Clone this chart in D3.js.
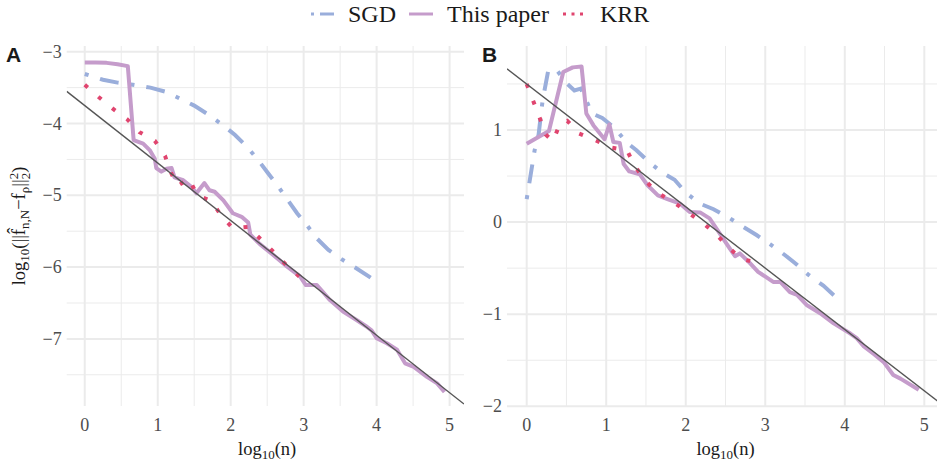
<!DOCTYPE html>
<html>
<head>
<meta charset="utf-8">
<script src="https://cdn.jsdelivr.net/npm/d3@7"></script>
<style>
    body { margin: 0; background: #fff; }
    svg text { font-family: "Liberation Serif", "DejaVu Serif", "Times New Roman", Times, serif; }
    svg text.tag { font-family: "Liberation Sans", Arial, sans-serif; }
</style>
</head>
<body>
<div id="chart"></div>
<script>

// ticks (log10 scale)
const xTicks = [0, 1, 2, 3, 4, 5];
const xMinor = [0.5, 1.5, 2.5, 3.5, 4.5];
const yTicksA = [-7, -6, -5, -4, -3];
const yMinorA = [-7.5, -6.5, -5.5, -4.5, -3.5];
const yTicksB = [-2, -1, 0, 1];
const yMinorB = [-1.5, -0.5, 0.5, 1.5];

const seriesNames = ["SGD", "This paper", "KRR"];

// panel A, [log10(n), log10(error)]
const sgdA = [[0,-3.31],[0.25,-3.39],[0.45,-3.43],[0.66,-3.46],[0.9,-3.5],[1.12,-3.56],[1.32,-3.66],
    [1.5,-3.75],[1.67,-3.86],[1.89,-4.02],[2.06,-4.16],[2.22,-4.32],[2.37,-4.5],[2.51,-4.69],
    [2.64,-4.86],[2.77,-5.05],[2.91,-5.25],[3.04,-5.41],[3.18,-5.6],[3.34,-5.76],[3.52,-5.89],
    [3.71,-6.01],[3.97,-6.18]];
const paperA = [[0,-3.15],[0.15,-3.15],[0.3,-3.155],[0.45,-3.175],[0.59,-3.2],[0.67,-4.23],
    [0.8,-4.28],[0.89,-4.37],[0.96,-4.49],[0.98,-4.62],[1.05,-4.67],[1.12,-4.63],[1.19,-4.62],
    [1.23,-4.75],[1.35,-4.79],[1.46,-4.88],[1.53,-4.97],[1.64,-4.83],[1.71,-4.93],[1.78,-4.95],
    [1.9,-5.07],[2.03,-5.25],[2.15,-5.3],[2.24,-5.38],[2.27,-5.55],[2.4,-5.68],[2.57,-5.82],
    [2.77,-5.99],[2.95,-6.13],[3.03,-6.25],[3.18,-6.25],[3.25,-6.33],[3.36,-6.46],[3.54,-6.62],
    [3.73,-6.74],[3.85,-6.82],[3.93,-6.88],[4.0,-6.99],[4.14,-7.06],[4.28,-7.15],[4.39,-7.34],
    [4.51,-7.39],[4.69,-7.53],[4.83,-7.62],[4.93,-7.74]];
const krrA = [[0,-3.46],[0.19,-3.63],[0.38,-3.79],[0.58,-3.94],[0.75,-4.12],[0.96,-4.24],
    [1.1,-4.45],[1.18,-4.68],[1.27,-4.87],[1.43,-4.77],[1.54,-5.0],[1.74,-5.08],[1.86,-5.27],
    [2.03,-5.46],[2.24,-5.44],[2.42,-5.62],[2.59,-5.79],[2.76,-5.97],[2.94,-6.13]];

// panel B
const sgdB = [[0,0.25],[0.04,0.46],[0.1,0.78],[0.15,0.95],[0.2,1.32],[0.27,1.64],[0.37,1.66],
    [0.5,1.51],[0.6,1.43],[0.68,1.45],[0.76,1.3],[0.82,1.18],[0.95,1.13],[1.11,1.02],
    [1.25,0.87],[1.38,0.78],[1.54,0.65],[1.7,0.54],[1.86,0.46],[2.0,0.32],[2.18,0.2],
    [2.35,0.14],[2.54,0.05],[2.72,-0.05],[2.89,-0.14],[3.06,-0.24],[3.25,-0.36],[3.38,-0.45],
    [3.54,-0.57],[3.73,-0.69],[3.87,-0.8]];
const paperB = [[0,0.85],[0.28,0.99],[0.46,1.63],[0.58,1.68],[0.69,1.69],[0.75,1.18],
    [0.84,1.05],[0.98,0.9],[1.04,1.06],[1.09,0.87],[1.17,0.86],[1.22,0.63],[1.29,0.55],
    [1.42,0.52],[1.52,0.4],[1.65,0.29],[1.77,0.25],[1.93,0.2],[2.05,0.11],[2.18,0.105],
    [2.3,0.04],[2.41,-0.1],[2.54,-0.27],[2.62,-0.37],[2.68,-0.34],[2.79,-0.43],[2.91,-0.54],
    [3.1,-0.65],[3.19,-0.65],[3.31,-0.76],[3.4,-0.79],[3.52,-0.9],[3.69,-0.99],[3.86,-1.1],
    [4.07,-1.21],[4.15,-1.26],[4.24,-1.35],[4.36,-1.43],[4.49,-1.52],[4.61,-1.66],[4.7,-1.7],
    [4.93,-1.82]];
const krrB = [[0,1.5],[0.08,1.32],[0.16,1.14],[0.24,0.95],[0.33,0.88],[0.42,1.07],[0.51,1.1],
    [0.66,0.96],[0.86,0.89],[1.06,0.81],[1.26,0.78],[1.36,0.61],[1.48,0.46],[1.64,0.32],
    [1.84,0.22],[2.02,0.11],[2.2,0.0],[2.37,-0.12],[2.53,-0.27],[2.7,-0.4],[2.89,-0.44]];

// reference lines y = a + b x
const refIntercepts = [-3.75, 1.5];
const refSlopes = [-0.8, -2 / 3];

const colors = {sgd: "#9aaedb", paper: "#c59ccb", krr: "#e0456f", ref: "#555555"};

const width = 937, height = 466;
const serif = "'Liberation Serif', 'DejaVu Serif', 'Times New Roman', serif";

const svg = d3.select("#chart").append("svg")
    .attr("width", width)
    .attr("height", height)
    .attr("font-family", serif);

const panels = [
    {id: "A", left: 66.7, right: 464, xDom: [-0.2475, 5.1975], yDom: [-7.935, -2.92],
        yTicks: yTicksA, yMinor: yMinorA, sgd: sgdA, paper: paperA, krr: krrA,
        ref: [refIntercepts[0], refSlopes[0]], labelX: 6},
    {id: "B", left: 507, right: 940, xDom: [-0.2475, 5.1975], yDom: [-1.997, 1.912],
        yTicks: yTicksB, yMinor: yMinorB, sgd: sgdB, paper: paperB, krr: krrB,
        ref: [refIntercepts[1], refSlopes[1]], labelX: 482}
];
const plotTop = 46, plotBottom = 406;

const fmt = d => (d < 0 ? "\u2212" + Math.abs(d) : "" + d);

panels.forEach(p => {
    let x = d3.scaleLinear().domain(p.xDom).range([p.left, p.right]);
    let y = d3.scaleLinear().domain(p.yDom).range([plotBottom, plotTop]);
    let gridRight = Math.min(p.right, width);

    let g = svg.append("g").attr("class", "panel-" + p.id);

    // clip
    svg.append("clipPath").attr("id", "clip" + p.id)
        .append("rect")
        .attr("x", p.left).attr("y", plotTop)
        .attr("width", p.right - p.left).attr("height", plotBottom - plotTop);

    // minor grid
    g.selectAll(".xminor").data(xMinor).enter().append("line")
        .attr("x1", d => x(d)).attr("x2", d => x(d))
        .attr("y1", plotTop).attr("y2", plotBottom)
        .attr("stroke", "#ebebeb").attr("stroke-width", 1);
    g.selectAll(".yminor").data(p.yMinor).enter().append("line")
        .attr("x1", p.left).attr("x2", gridRight)
        .attr("y1", d => y(d)).attr("y2", d => y(d))
        .attr("stroke", "#ebebeb").attr("stroke-width", 1);

    // major grid
    g.selectAll(".xmajor").data(xTicks).enter().append("line")
        .attr("x1", d => x(d)).attr("x2", d => x(d))
        .attr("y1", plotTop).attr("y2", plotBottom)
        .attr("stroke", "#ebebeb").attr("stroke-width", 2);
    g.selectAll(".ymajor").data(p.yTicks).enter().append("line")
        .attr("x1", p.left).attr("x2", gridRight)
        .attr("y1", d => y(d)).attr("y2", d => y(d))
        .attr("stroke", "#ebebeb").attr("stroke-width", 2);

    // tick labels
    g.selectAll(".xlab").data(xTicks).enter().append("text")
        .attr("x", d => x(d)).attr("y", 431)
        .attr("text-anchor", "middle")
        .attr("font-size", 18).attr("fill", "#4d4d4d")
        .text(fmt);
    g.selectAll(".ylab").data(p.yTicks).enter().append("text")
        .attr("x", p.left - 5).attr("y", d => y(d) + 6)
        .attr("text-anchor", "end")
        .attr("font-size", 18).attr("fill", "#4d4d4d")
        .text(fmt);

    // x title
    let xt = g.append("text")
        .attr("x", (x(0) + x(5)) / 2 + 0).attr("y", 455)
        .attr("text-anchor", "middle")
        .attr("font-size", 18.5).attr("fill", "#1a1a1a");
    xt.append("tspan").text("log");
    xt.append("tspan").attr("dy", 4).attr("font-size", 13).text("10");
    xt.append("tspan").attr("dy", -4).text("(n)");

    // data lines
    let line = d3.line().x(d => x(d[0])).y(d => y(d[1]));
    let lines = g.append("g").attr("clip-path", `url(#clip${p.id})`);

    lines.append("path").datum(p.sgd)
        .attr("d", line).attr("fill", "none")
        .attr("stroke", colors.sgd).attr("stroke-width", 4)
        .attr("stroke-dasharray", "4,12,19,12");
    lines.append("path").datum(p.paper)
        .attr("d", line).attr("fill", "none")
        .attr("stroke", colors.paper).attr("stroke-width", 4)
        .attr("stroke-linejoin", "round");
    lines.append("path").datum(p.krr)
        .attr("d", line).attr("fill", "none")
        .attr("stroke", colors.krr).attr("stroke-width", 4)
        .attr("stroke-dasharray", "4,14");

    // reference line
    lines.append("line")
        .attr("x1", x(p.xDom[0])).attr("y1", y(p.ref[0] + p.ref[1] * p.xDom[0]))
        .attr("x2", x(p.xDom[1])).attr("y2", y(p.ref[0] + p.ref[1] * p.xDom[1]))
        .attr("stroke", colors.ref).attr("stroke-width", 1.4);

    // panel tag
    svg.append("text")
        .attr("class", "tag")
        .attr("x", p.labelX).attr("y", 62)
        .attr("font-family", "'Liberation Sans', Arial, sans-serif")
        .attr("font-weight", "bold").attr("font-size", 21)
        .attr("fill", "#1a1a1a")
        .text(p.id);
});

// y axis title
let yt = svg.append("text")
    .attr("transform", "translate(25,226) rotate(-90)")
    .attr("text-anchor", "middle")
    .attr("font-size", 18.5).attr("fill", "#1a1a1a");
yt.append("tspan").text("log");
yt.append("tspan").attr("dy", 4).attr("font-size", 13).text("10");
yt.append("tspan").attr("dy", -4).text("(||f\u0302");
yt.append("tspan").attr("dy", 4).attr("font-size", 13).text("n,N");
yt.append("tspan").attr("dy", -4).text("\u2212f");
yt.append("tspan").attr("dy", 4).attr("font-size", 13).text("\u03c1");
yt.append("tspan").attr("dy", -4).text("||");
yt.append("tspan").attr("dy", -7).attr("font-size", 13).text("2");
yt.append("tspan").attr("dy", 12).attr("dx", -6.5).attr("font-size", 13).text("2");
yt.append("tspan").attr("dy", -5).text(")");

// legend
const legendItems = [
    {name: seriesNames[0], x1: 311, x2: 334, tx: 348, color: colors.sgd, dash: "3,6,14,6"},
    {name: seriesNames[1], x1: 409, x2: 433, tx: 447, color: colors.paper, dash: null},
    {name: seriesNames[2], x1: 563, x2: 588, tx: 600, color: colors.krr, dash: "3,5.5"}
];
let legend = svg.append("g").attr("class", "legend");
legendItems.forEach(d => {
    legend.append("line")
        .attr("x1", d.x1).attr("x2", d.x2)
        .attr("y1", 14).attr("y2", 14)
        .attr("stroke", d.color).attr("stroke-width", 3)
        .attr("stroke-dasharray", d.dash);
    legend.append("text")
        .attr("x", d.tx).attr("y", 22)
        .attr("font-size", 24).attr("fill", "#1a1a1a")
        .text(d.name);
});

</script>
</body>
</html>
